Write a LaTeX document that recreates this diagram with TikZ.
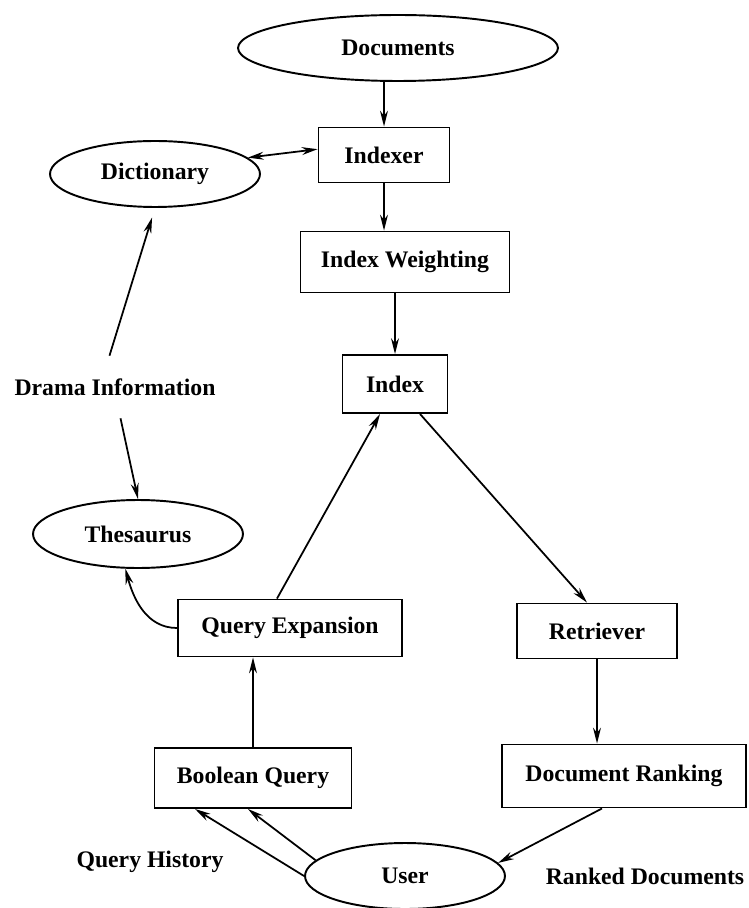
\documentclass[tikz,border=0pt]{standalone}
\usepackage{fontspec}
\setmainfont{Liberation Serif}
\usetikzlibrary{shapes,arrows.meta}

\begin{document}
\begin{tikzpicture}[x=0.02cm, y=-0.02cm,
    font=\fontsize{13.5}{16}\selectfont\bfseries,
    box/.style={draw, line width=1.1pt, inner sep=0pt},
    oval/.style={draw, ellipse, line width=1.1pt, inner sep=0pt},
    arr/.style={-{Stealth[length=9pt,width=4.5pt]}, line width=1pt},
    dbl/.style={{Stealth[length=9pt,width=4.5pt]}-{Stealth[length=9pt,width=4.5pt]}, line width=1pt}]
  \useasboundingbox (0,0) rectangle (748,908);

  \node[oval, minimum width=6.4cm, minimum height=1.32cm] (docs) at (398,48) {Documents};
  \node[box, minimum width=2.62cm, minimum height=1.1cm] (indexer) at (384,155) {Indexer};
  \node[oval, minimum width=4.2cm, minimum height=1.32cm] (dict) at (155,174) {Dictionary};
  \node[box, minimum width=4.18cm, minimum height=1.22cm] (iw) at (405,262) {Index Weighting};
  \node[inner xsep=0pt, inner ysep=0.45cm] (drama) at (115,387) {Drama Information};
  \node[box, minimum width=2.1cm, minimum height=1.16cm] (index) at (395,384) {Index};
  \node[oval, minimum width=4.2cm, minimum height=1.36cm] (thes) at (138,534) {Thesaurus};
  \node[box, minimum width=4.48cm, minimum height=1.14cm] (qe) at (290,628) {Query Expansion};
  \node[box, minimum width=3.2cm, minimum height=1.1cm] (retr) at (597,631) {Retriever};
  \node[box, minimum width=3.94cm, minimum height=1.2cm] (bq) at (253,778) {Boolean Query};
  \node[box, minimum width=4.88cm, minimum height=1.26cm] (docrank) at (624,776) {Document Ranking};
  \node[oval, minimum width=4cm, minimum height=1.32cm] (user) at (405,876) {User};
  \node (qhist) at (150,862) {Query History};
  \node (ranked) at (645,876) {Ranked Documents};

  \draw[arr] (docs.south -| indexer.north) -- (indexer.north);
  \draw[dbl] (dict.10) -- (indexer.175);
  \draw[arr] (indexer) -- (indexer |- iw.north);
  \draw[arr] (iw.south -| index) -- (index);
  \draw[arr, shorten >=0.2cm] (drama.100) -- (dict.south);
  \draw[arr] (drama.-80) -- (thes.north);
  \draw[arr] (qe.west) to[out=180, in=-75] (thes.-110);
  \draw[arr] ([xshift=-0.26cm]qe.north) -- ([xshift=-0.3cm]index.south);
  \draw[arr] ([xshift=0.5cm]index.south) -- ([xshift=-0.2cm]retr.north);
  \draw[arr] (retr) -- (retr |- docrank.north);
  \draw[arr] ([xshift=-0.44cm]docrank.south) -- (user.8);
  \draw[arr] (bq) -- (bq |- qe.south);
  \draw[arr] (user.west) -- ([xshift=-1.16cm]bq.south);
  \draw[arr] (user.170) -- ([xshift=-0.1cm]bq.south);
\end{tikzpicture}
\end{document}
